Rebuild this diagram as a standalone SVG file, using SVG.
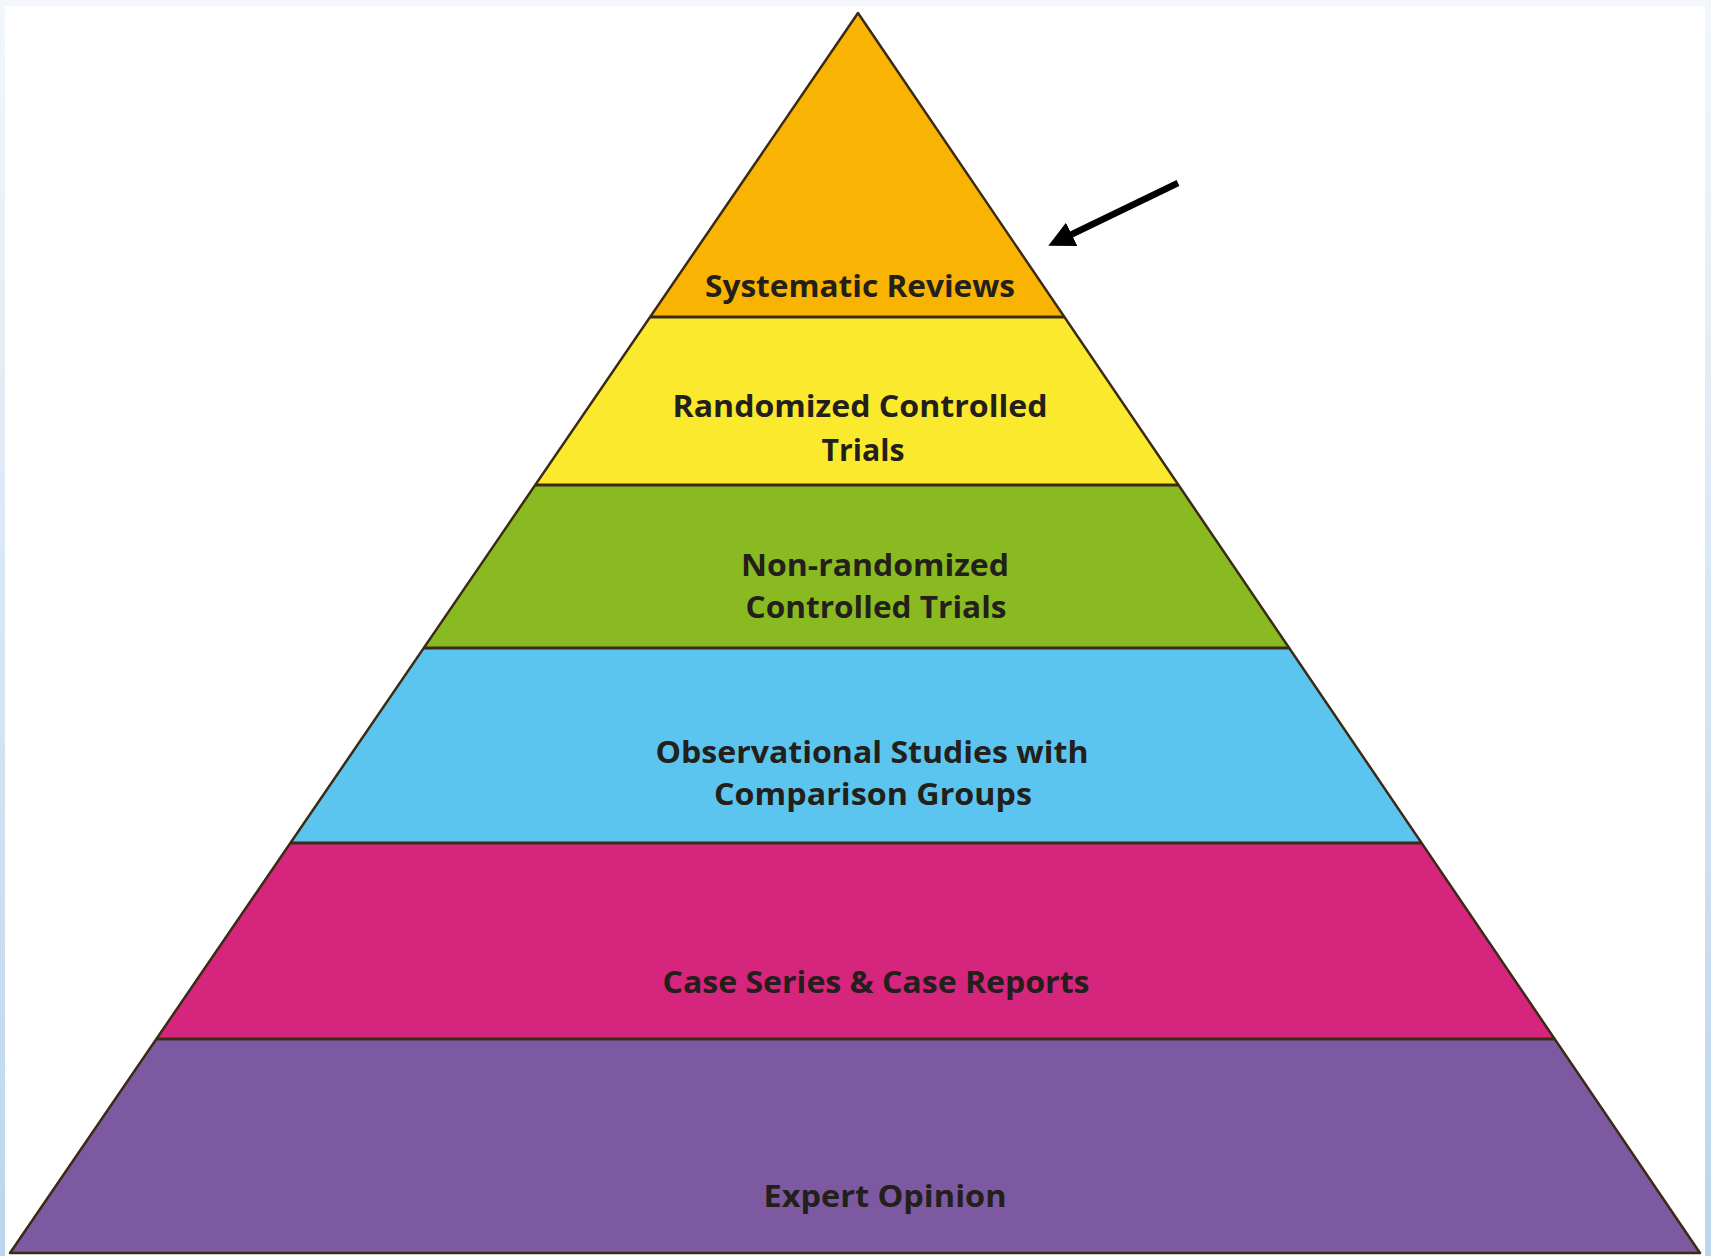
<svg xmlns="http://www.w3.org/2000/svg" width="1711" height="1256" viewBox="0 0 1711 1256">
  <defs>
    <linearGradient id="frameGrad" x1="0" y1="0" x2="0" y2="1">
      <stop offset="0" stop-color="#f3f7fb"/>
      <stop offset="1" stop-color="#bcd5ec"/>
    </linearGradient>
    <marker id="arrowHead" markerWidth="4" markerHeight="4" refX="2" refY="2" orient="auto" markerUnits="strokeWidth">
      <path d="M0,0 L4,2 L0,4 Z" fill="#000"/>
    </marker>
    <style>
      .band { stroke: none; }
      .divider { stroke: #3b2a14; stroke-width: 3; }
      .outline { fill: none; stroke: #3b2a14; stroke-width: 2.5; stroke-linejoin: round; }
      .label { font-family: "Open Sans", "Liberation Sans", sans-serif; font-weight: 700; font-size: 31px; fill: #231f1a; text-anchor: middle; }
    </style>
  </defs>

  <rect x="0" y="0" width="1711" height="1256" fill="#ffffff"/>
  <g id="frame">
    <rect x="0" y="0" width="1711" height="6" fill="#f3f7fb"/>
    <rect x="0" y="0" width="5" height="1256" fill="url(#frameGrad)"/>
    <rect x="1705" y="0" width="6" height="1256" fill="url(#frameGrad)"/>
  </g>

  <g id="systematic-reviews">
    <polygon class="band" points="858,13 1064.4,317 650.1,317" fill="#f8b303"/>
    <text class="label" x="860" y="297" textLength="310" lengthAdjust="spacingAndGlyphs">Systematic Reviews</text>
  </g>
  <g id="randomized-controlled-trials">
    <polygon class="band" points="650.1,317 1064.4,317 1178.5,485 535.2,485" fill="#fbe92d"/>
    <text class="label" x="860" y="417" textLength="375" lengthAdjust="spacingAndGlyphs">Randomized Controlled</text>
    <text class="label" x="863" y="461" textLength="83" lengthAdjust="spacingAndGlyphs">Trials</text>
  </g>
  <g id="non-randomized-controlled-trials">
    <polygon class="band" points="535.2,485 1178.5,485 1289.2,648 423.7,648" fill="#8aba21"/>
    <text class="label" x="875" y="576" textLength="268" lengthAdjust="spacingAndGlyphs">Non-randomized</text>
    <text class="label" x="876" y="618" textLength="261" lengthAdjust="spacingAndGlyphs">Controlled Trials</text>
  </g>
  <g id="observational-studies">
    <polygon class="band" points="423.7,648 1289.2,648 1421.6,843 290.4,843" fill="#5bc5ef"/>
    <text class="label" x="872" y="763" textLength="433" lengthAdjust="spacingAndGlyphs">Observational Studies with</text>
    <text class="label" x="873" y="805" textLength="318" lengthAdjust="spacingAndGlyphs">Comparison Groups</text>
  </g>
  <g id="case-series">
    <polygon class="band" points="290.4,843 1421.6,843 1554.7,1039 156.3,1039" fill="#d6257d"/>
    <text class="label" x="876" y="993" textLength="427" lengthAdjust="spacingAndGlyphs">Case Series &amp; Case Reports</text>
  </g>
  <g id="expert-opinion">
    <polygon class="band" points="156.3,1039 1554.7,1039 1700,1253 10,1253" fill="#7d59a1"/>
    <text class="label" x="885" y="1207" textLength="243" lengthAdjust="spacingAndGlyphs">Expert Opinion</text>
  </g>

  <g id="dividers">
    <line class="divider" x1="650.1" y1="317" x2="1064.4" y2="317"/>
    <line class="divider" x1="535.2" y1="485" x2="1178.5" y2="485"/>
    <line class="divider" x1="423.7" y1="648" x2="1289.2" y2="648"/>
    <line class="divider" x1="290.4" y1="843" x2="1421.6" y2="843"/>
    <line class="divider" x1="156.3" y1="1039" x2="1554.7" y2="1039"/>
    <polygon class="outline" points="858,13 1700,1253 10,1253"/>
  </g>

  <g id="connectors">
    <line x1="1178" y1="183" x2="1060" y2="240" stroke="#000" stroke-width="6.5" marker-end="url(#arrowHead)"/>
  </g>
</svg>
